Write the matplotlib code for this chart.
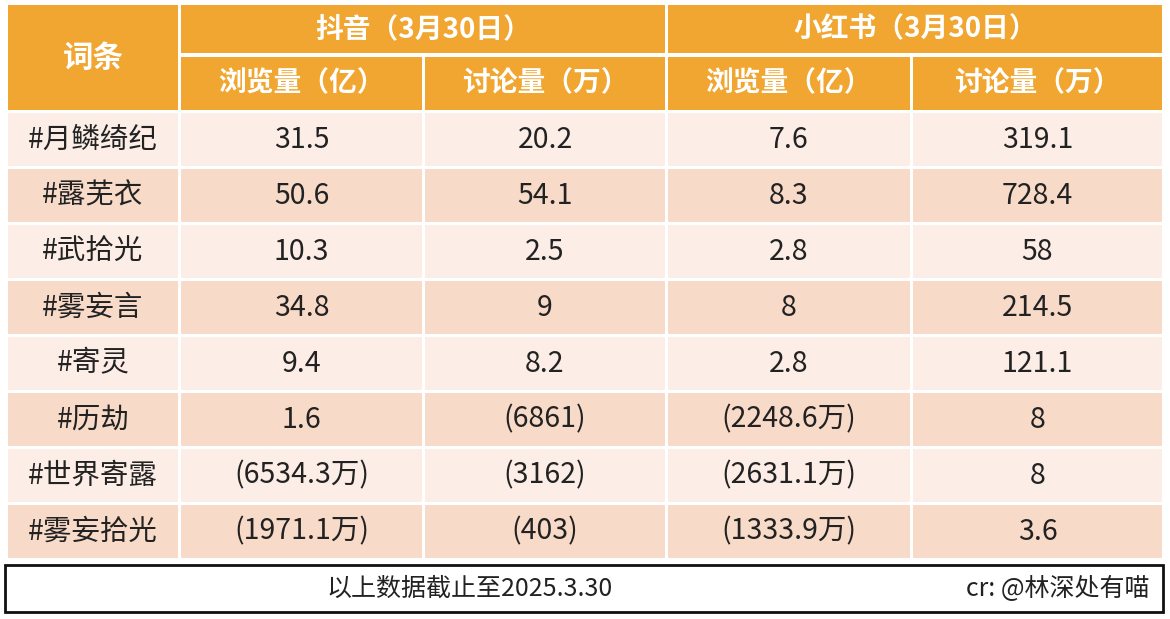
import matplotlib
matplotlib.use("Agg")
import matplotlib.pyplot as plt
from matplotlib.patches import Rectangle

plt.rcParams['font.family'] = ['Noto Sans CJK SC', 'DejaVu Sans']

terms = ["#月鳞绮纪", "#露芜衣", "#武拾光", "#雾妄言", "#寄灵", "#历劫", "#世界寄露", "#雾妄拾光"]
dy_views = ["31.5", "50.6", "10.3", "34.8", "9.4", "1.6", "(6534.3万)", "(1971.1万)"]
dy_disc = ["20.2", "54.1", "2.5", "9", "8.2", "(6861)", "(3162)", "(403)"]
xhs_views = ["7.6", "8.3", "2.8", "8", "2.8", "(2248.6万)", "(2631.1万)", "(1333.9万)"]
xhs_disc = ["319.1", "728.4", "58", "214.5", "121.1", "8", "8", "3.6"]
group_headers = ["抖音（3月30日）", "小红书（3月30日）"]
sub_headers = ["浏览量（亿）", "讨论量（万）", "浏览量（亿）", "讨论量（万）"]

W, H = 1170, 619
fig = plt.figure(figsize=(W/100, H/100), dpi=100)
ax = fig.add_axes([0, 0, 1, 1])
ax.set_xlim(0, W); ax.set_ylim(H, 0); ax.axis('off')

cols = [(8, 178), (181, 422), (425, 665), (668, 910), (913, 1162)]
orange = '#F0A630'
light = '#FCEDE6'
dark = '#F8DAC8'

def cell(x0, x1, y0, y1, color, text, fs, tc, bold=False):
    ax.add_patch(Rectangle((x0, y0), x1-x0, y1-y0, color=color, lw=0))
    ax.text((x0+x1)/2, (y0+y1)/2, text, ha='center', va='center', fontsize=fs, color=tc,
            fontweight='bold' if bold else 'normal')

cell(cols[0][0], cols[0][1], 5, 110, orange, "词条", 22, 'white', True)
cell(cols[1][0], cols[2][1], 5, 53, orange, group_headers[0], 20, 'white', True)
cell(cols[3][0], cols[4][1], 5, 53, orange, group_headers[1], 20, 'white', True)
for i, s in enumerate(sub_headers):
    cell(cols[i+1][0], cols[i+1][1], 57, 110, orange, s, 20, 'white', True)

data = [terms, dy_views, dy_disc, xhs_views, xhs_disc]
for r in range(len(terms)):
    y0 = 113 + r*56
    y1 = y0 + 53
    bg = light if r % 2 == 0 else dark
    for c in range(5):
        cell(cols[c][0], cols[c][1], y0, y1, bg, data[c][r], 20.5, '#222222')

ax.add_patch(Rectangle((5, 565), 1158, 47, fill=False, ec='#111111', lw=2))
ax.text(470, 589, "以上数据截止至2025.3.30", ha='center', va='center', fontsize=18, color='#222222')
ax.text(1150, 589, "cr: @林深处有喵", ha='right', va='center', fontsize=18, color='#222222')

fig.savefig("out.png", dpi=100, facecolor='white')
